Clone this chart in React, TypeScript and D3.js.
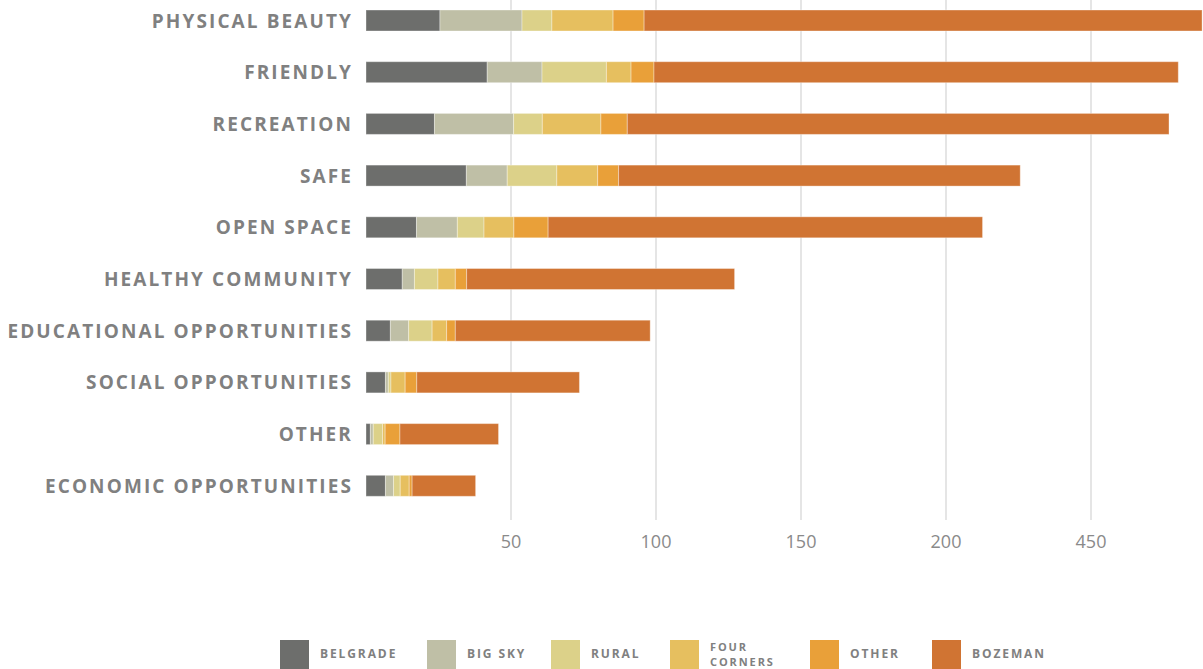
import React from "react";
import * as d3 from "d3";

const categories = [
  "PHYSICAL BEAUTY",
  "FRIENDLY",
  "RECREATION",
  "SAFE",
  "OPEN SPACE",
  "HEALTHY COMMUNITY",
  "EDUCATIONAL OPPORTUNITIES",
  "SOCIAL OPPORTUNITIES",
  "OTHER",
  "ECONOMIC OPPORTUNITIES",
];

const seriesNames = ["Belgrade", "Big Sky", "Rural", "Four Corners", "Other", "Bozeman"];
const legendLabels = [["BELGRADE"], ["BIG SKY"], ["RURAL"], ["FOUR", "CORNERS"], ["OTHER"], ["BOZEMAN"]];
const colors = ["#6d6e6c", "#bfbfa6", "#dcd189", "#e6bf5f", "#e9a039", "#d07433"];

const belgrade = [25.5, 41.8, 23.6, 34.6, 17.4, 12.5, 8.4, 6.7, 1.5, 6.7];
const bigSky = [28.3, 18.9, 27.3, 14.1, 14.1, 4.2, 6.3, 1.0, 1.0, 2.8];
const rural = [10.3, 22.2, 9.9, 17.1, 9.2, 8.1, 8.1, 0.9, 3.2, 2.3];
const fourCorners = [21.1, 8.5, 20.2, 14.1, 10.3, 6.0, 5.0, 4.9, 0.9, 3.1];
const otherArea = [10.7, 7.9, 9.1, 7.2, 11.8, 3.9, 3.0, 4.0, 5.1, 1.0];
const bozeman = [192.4, 180.8, 186.8, 138.5, 149.8, 92.4, 67.2, 56.1, 34.0, 21.9];

const tickValues = [50, 100, 150, 200, 250];
const tickLabels = ["50", "100", "150", "200", "450"];

const W = 1203;
const H = 669;

export default function App() {
  const allSeries = [belgrade, bigSky, rural, fourCorners, otherArea, bozeman];
  const rows = categories.map((c, i) => {
    const o: any = { cat: c };
    seriesNames.forEach((s, j) => (o[s] = allSeries[j][i]));
    return o;
  });
  const stack = d3.stack<any>().keys(seriesNames)(rows);

  const x = d3.scaleLinear().domain([0, 250]).range([366, 1091]);
  const y = d3
    .scaleBand<string>()
    .domain(categories)
    .range([-5.35, 511.65])
    .paddingInner(0.594)
    .paddingOuter(0.297);

  const legendX = [280, 427, 551, 670, 810, 932];

  return (
    <svg
      width={W}
      height={H}
      style={{ position: "absolute", left: 0, top: 0, background: "#fff" }}
      fontFamily="'Open Sans', 'Noto Sans', sans-serif"
    >
      <g>
        {tickValues.map((t, i) => (
          <g key={t}>
            <line x1={x(t)} x2={x(t)} y1={0} y2={520} stroke="#dddddd" strokeWidth={1.5} />
            <text
              x={x(t)}
              y={541}
              textAnchor="middle"
              dominantBaseline="central"
              fill="#8a8a8a"
              fontSize={18}
              fontFamily="'Liberation Sans Narrow', 'Open Sans', sans-serif"
            >
              {tickLabels[i]}
            </text>
          </g>
        ))}
      </g>
      <g>
        {stack.map((layer, j) => (
          <g key={layer.key} fill={colors[j]}>
            {layer.map((d, i) => (
              <rect
                key={i}
                x={x(d[0])}
                y={y(categories[i])}
                width={Math.max(0, x(d[1]) - x(d[0]))}
                height={y.bandwidth()}
                stroke="#ffffff"
                strokeOpacity={0.35}
                strokeWidth={1}
              />
            ))}
          </g>
        ))}
      </g>
      <g>
        {categories.map((c) => (
          <text
            key={c}
            x={353}
            y={(y(c) as number) + y.bandwidth() / 2}
            textAnchor="end"
            dominantBaseline="central"
            fill="#808080"
            fontSize={19}
            fontWeight={700}
            letterSpacing={2.1}
          >
            {c}
          </text>
        ))}
      </g>
      <g>
        {legendLabels.map((lbl, i) =>
          <g key={i}>
            <rect x={legendX[i]} y={640} width={29} height={29} fill={colors[i]} />
            {lbl.map((line, k) => (
              <text
                key={k}
                x={legendX[i] + 40}
                y={lbl.length === 1 ? 653 : 646 + k * 15.5}
                dominantBaseline="central"
                fill="#808080"
                fontSize={lbl.length === 1 ? 12 : 11}
                fontWeight={700}
                letterSpacing={1.9}
              >
                {line}
              </text>
            ))}
          </g>
        )}
      </g>
    </svg>
  );
}
